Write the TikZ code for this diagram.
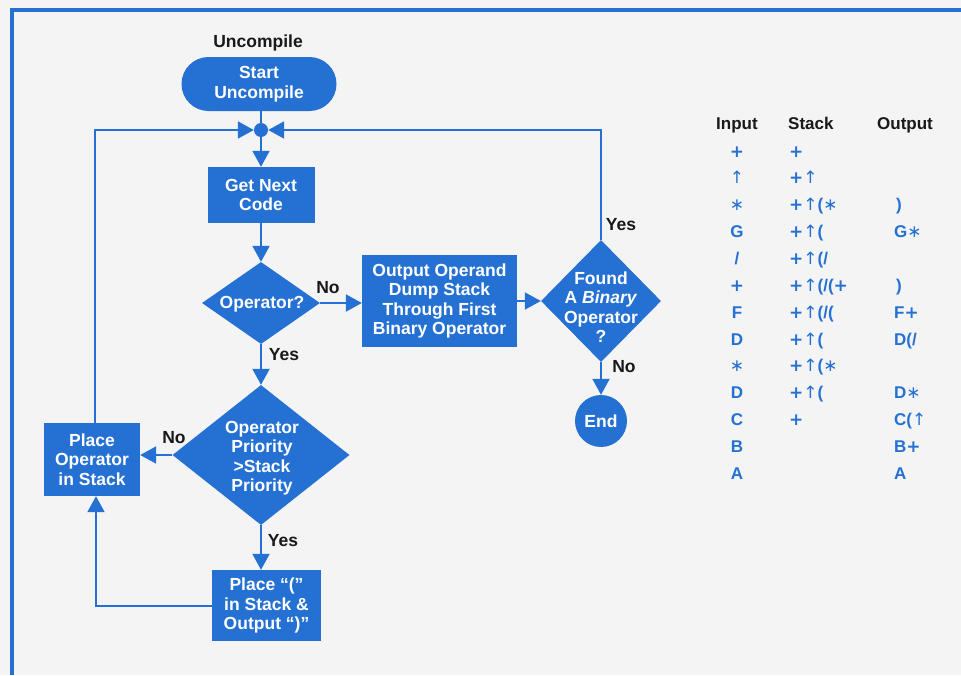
\documentclass[tikz,border=0pt]{standalone}
\usepackage{fontspec}
\setmainfont{Liberation Sans}
\newfontfamily\symf{DejaVu Sans}
\usetikzlibrary{arrows.meta,shapes.geometric}
\definecolor{hpblue}{RGB}{36,113,211}
\definecolor{bg}{RGB}{244,244,244}
\definecolor{ink}{RGB}{25,25,25}
\newcommand\upa{{\symf\mdseries ↑}}
\newcommand\astr{{\symf\mdseries ∗}}
\newcommand\plus{{\symf +}}
\begin{document}
\begin{tikzpicture}[x=1pt,y=-1pt,
  font=\fontsize{17.5}{19.5}\selectfont\bfseries,
  box/.style={fill=hpblue, text=white, inner sep=0pt, align=center},
  txt/.style={text=white, inner sep=0pt, align=center},
  dia/.style={diamond, fill=hpblue, inner sep=0pt},
  ln/.style={draw=hpblue, line width=2pt},
  arr/.style={ln, -{Triangle[length=16pt,width=17pt]}},
  lbl/.style={text=ink, inner sep=0pt},
  tab/.style={text=hpblue, inner sep=0pt, anchor=base, font=\fontsize{17}{19}\selectfont\bfseries},
  tabw/.style={tab, anchor=base west},
  hdr/.style={text=ink, inner sep=0pt, anchor=base, font=\fontsize{17}{19}\selectfont\bfseries}]
\useasboundingbox (0,0) rectangle (961,675);
\fill[bg] (0,0) rectangle (961,675);
% frame
\draw[hpblue, line width=3.5pt] (12,675) -- (12,10) -- (961,10);

% flowchart nodes
\node[lbl] (title) at (258,43) {Uncompile};
\node[box, minimum width=155pt, minimum height=54pt, rounded corners=27pt] (start) at (259,84) {Start\\Uncompile};
\node[circle, fill=hpblue, minimum size=14pt, inner sep=0pt] (dot) at (261,130) {};
\node[box, minimum width=107pt, minimum height=56pt] (get) at (261,195) {Get Next\\Code};
\node[dia, minimum width=118pt, minimum height=82pt] (op) at (261,303) {};
\node[txt] (opt) at (262,304) {Operator?};
\node[box, minimum width=155pt, minimum height=92pt] (out) at (439.5,301) {Output Operand\\Dump Stack\\Through First\\Binary Operator};
\node[dia, minimum width=120pt, minimum height=122pt] (found) at (601,301) {};
\node[txt] (foundt) at (601,307) {Found\\A \textit{Binary}\\Operator\\?};
\node[circle, fill=hpblue, text=white, minimum size=52pt, inner sep=0pt] (end) at (601,421) {End};
\node[dia, minimum width=177pt, minimum height=140pt] (pri) at (261,455) {};
\node[txt] (prit) at (262,458) {Operator\\Priority\\>Stack\\Priority};
\node[box, minimum width=96pt, minimum height=73pt] (place) at (92,459.5) {Place\\Operator\\in Stack};
\node[box, minimum width=109pt, minimum height=71pt] (paren) at (266.5,605.5) {Place “(”\\in Stack \&\\Output “)”};

% connectors
\draw[ln] (start.south -| dot.center) -- (dot.center);
\draw[arr] (dot.center) -- (get.north);
\draw[arr] (get.south) -- (op.north);
\draw[arr] (op.east) -- (op.east -| out.west);
\draw[arr] (out.east) -- (found.west);
\draw[arr] (found.north) |- (dot.east);
\draw[arr] (found.south) -- (end.north);
\draw[arr] (op.south) -- (pri.north);
\draw[arr] (pri.west) -- (pri.west -| place.east);
\draw[arr] (pri.south) -- (pri.south |- paren.north);
\draw[arr] (paren.west) -| ([xshift=4pt]place.south);
\draw[arr] ([xshift=3pt]place.north) |- (dot.west);

% connector labels
\node[lbl] (l1) at (328,288) {No};
\node[lbl] (l2) at (621,225) {Yes};
\node[lbl] (l3) at (624,367) {No};
\node[lbl] (l4) at (284,355) {Yes};
\node[lbl] (l5) at (174,438) {No};
\node[lbl] (l6) at (283,541) {Yes};

% table
\node[hdr] (hIn) at (737,129) {Input};
\node[hdr, anchor=base west] (hSt) at (788,129) {Stack};
\node[hdr] (hOut) at (905,129) {Output};

\node[tab] (i1) at (737,157) {\plus};
\node[tab] (i2) at (737,183) {\upa};
\node[tab] (i3) at (737,210) {\astr};
\node[tab] (i4) at (737,237) {G};
\node[tab] (i5) at (737,264) {/};
\node[tab] (i6) at (737,291) {\plus};
\node[tab] (i7) at (737,318) {F};
\node[tab] (i8) at (737,345) {D};
\node[tab] (i9) at (737,371) {\astr};
\node[tab] (i10) at (737,398) {D};
\node[tab] (i11) at (737,425) {C};
\node[tab] (i12) at (737,452) {B};
\node[tab] (i13) at (737,479) {A};

\node[tabw] (s1) at (789,157) {\plus};
\node[tabw] (s2) at (789,183) {\plus\upa};
\node[tabw] (s3) at (789,210) {\plus\upa(\astr};
\node[tabw] (s4) at (789,237) {\plus\upa(};
\node[tabw] (s5) at (789,264) {\plus\upa(/};
\node[tabw] (s6) at (789,291) {\plus\upa(/(\plus};
\node[tabw] (s7) at (789,318) {\plus\upa(/(};
\node[tabw] (s8) at (789,345) {\plus\upa(};
\node[tabw] (s9) at (789,371) {\plus\upa(\astr};
\node[tabw] (s10) at (789,398) {\plus\upa(};
\node[tabw] (s11) at (789,425) {\plus};

\node[tabw] (o3) at (896,210) {)};
\node[tabw] (o4) at (894,237) {G\astr};
\node[tabw] (o6) at (896,291) {)};
\node[tabw] (o7) at (894,318) {F\plus};
\node[tabw] (o8) at (894,345) {D(/};
\node[tabw] (o10) at (894,398) {D\astr};
\node[tabw] (o11) at (894,425) {C(\upa};
\node[tabw] (o12) at (894,452) {B\plus};
\node[tabw] (o13) at (894,479) {A};
\end{tikzpicture}
\end{document}
